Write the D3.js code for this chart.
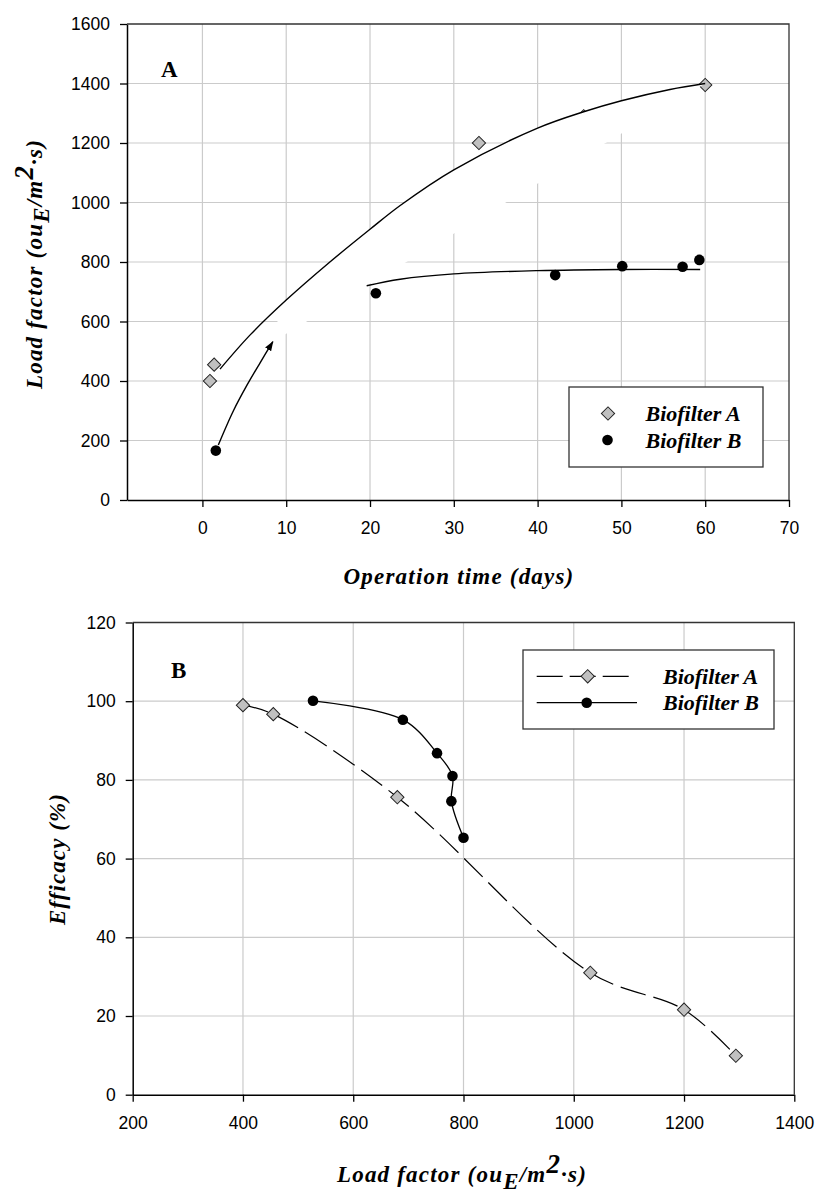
<!DOCTYPE html>
<html>
<head>
<meta charset="UTF-8">
<script src="https://d3js.org/d3.v7.min.js"></script>
<style>
  body { margin: 0; background: #fff; }
  .tick text { font-family: "Liberation Sans", Arial, sans-serif; font-size: 17.5px; fill: #000; }
  .ttl { font-family: "Liberation Serif", "Times New Roman", serif; font-weight: bold; font-style: italic; fill: #000; }
</style>
</head>
<body>
<svg id="canvas"></svg>
<script>

// ---- panel A : load factor vs operation time ----
const ticksTimeX = [0, 10, 20, 30, 40, 50, 60, 70];
const ticksLoadY = [0, 200, 400, 600, 800, 1000, 1200, 1400, 1600];

const timeA = [0.9, 1.4, 33.0, 45.5, 60.0];
const loadA = [400, 455, 1200, 1290, 1395];
const timeB = [1.6, 20.7, 42.1, 50.1, 57.3, 59.3];
const loadB = [166, 695, 756, 786, 784, 807];

// fitted trend lines
const fitTimeA = [2.1, 5.7, 10, 15, 20, 23.6, 30, 40, 45.5, 50, 55.8, 60];
const fitLoadA = [440, 555, 672, 795, 910, 990, 1110, 1250, 1305, 1342, 1380, 1400];
const fitTimeB = [19.6, 23.6, 30, 40, 50, 59.4];
const fitLoadB = [720, 742, 760, 771, 775, 775];
const arrowTime = [1.9, 3.7, 5.3, 6.9, 8.4];
const arrowLoad = [185, 300, 385, 462, 532];

// ---- panel B : efficacy vs load factor ----
const ticksLoadX = [200, 400, 600, 800, 1000, 1200, 1400];
const ticksEffY = [0, 20, 40, 60, 80, 100, 120];

const loadBotA = [400, 455, 680, 1030, 1200, 1294];
const effA = [99.0, 96.7, 75.6, 31.0, 21.6, 9.9];
const loadBotB = [527, 690, 752, 780, 778, 800];
const effB = [100.1, 95.3, 86.8, 81.0, 74.6, 65.3];

const seriesNames = ["Biofilter A", "Biofilter B"];

width = 817;
height = 1195;

svg = d3.select("#canvas").attr("width", width).attr("height", height);

defs = svg.append("defs");
defs.append("marker")
    .attr("id", "arrow")
    .attr("viewBox", "0 0 10 10")
    .attr("refX", 9).attr("refY", 5)
    .attr("markerWidth", 10).attr("markerHeight", 10)
    .attr("markerUnits", "userSpaceOnUse")
    .attr("orient", "auto")
  .append("path")
    .attr("d", "M0,1.5 L10,5 L0,8.5 z")
    .attr("fill", "#000");

zip = (xs, ys) => xs.map((v, i) => [v, ys[i]]);

function grid(g, x, y, xv, yv) {
    g.selectAll(".vg").data(xv).enter().append("line")
        .attr("x1", d => x(d)).attr("x2", d => x(d))
        .attr("y1", y.range()[0]).attr("y2", y.range()[1])
        .attr("stroke", "#cbcbcb").attr("stroke-width", 1.2);
    g.selectAll(".hg").data(yv).enter().append("line")
        .attr("y1", d => y(d)).attr("y2", d => y(d))
        .attr("x1", x.range()[0]).attr("x2", x.range()[1])
        .attr("stroke", "#cbcbcb").attr("stroke-width", 1.2);
}

function axes(x, y, xv, yv) {
    const ax = svg.append("g")
        .attr("transform", "translate(0," + y.range()[0] + ")")
        .call(d3.axisBottom(x).tickValues(xv).tickFormat(d3.format("d"))
            .tickSize(7).tickPadding(15).tickSizeOuter(0));
    const ay = svg.append("g")
        .attr("transform", "translate(" + x.range()[0] + ",0)")
        .call(d3.axisLeft(y).tickValues(yv).tickFormat(d3.format("d"))
            .tickSize(7).tickPadding(10).tickSizeOuter(0));
    [ax, ay].forEach(a => {
        a.select(".domain").attr("stroke", "#000").attr("stroke-width", 1.5);
        a.selectAll(".tick line").attr("stroke", "#000").attr("stroke-width", 1.3);
    });
    // top and right border
    svg.append("path")
        .attr("d", "M" + x.range()[0] + "," + y.range()[1] + "H" + x.range()[1] + "V" + y.range()[0])
        .attr("fill", "none").attr("stroke", "#333").attr("stroke-width", 1.3);
}

function diamonds(g, pts, x, y) {
    g.selectAll(null).data(pts).enter().append("path")
        .attr("d", d3.symbol(d3.symbolSquare, 88)())
        .attr("transform", d => "translate(" + x(d[0]) + "," + y(d[1]) + ") rotate(45)")
        .attr("fill", "#c0c0c0").attr("stroke", "#222").attr("stroke-width", 1);
}

function dots(g, pts, x, y) {
    g.selectAll(null).data(pts).enter().append("circle")
        .attr("cx", d => x(d[0])).attr("cy", d => y(d[1])).attr("r", 5.3)
        .attr("fill", "#000");
}

function loadTitle(t) {
    t.append("tspan").text("Load factor (ou");
    t.append("tspan").attr("dy", 7).text("E");
    t.append("tspan").attr("dy", -7).text("/m");
    t.append("tspan").attr("dy", -9).attr("font-size", 27).text("2");
    t.append("tspan").attr("dy", 9).text("·s)");
}

// ================= panel A =================
xA = d3.scaleLinear().domain([-9, 70]).range([127, 789]);
yA = d3.scaleLinear().domain([0, 1600]).range([500, 24]);

gA = svg.append("g");
grid(gA, xA, yA, ticksTimeX.slice(0, -1), ticksLoadY.slice(1, -1));

diamonds(gA, zip(timeA, loadA), xA, yA);

smooth = d3.line().x(d => xA(d[0])).y(d => yA(d[1])).curve(d3.curveCatmullRom.alpha(0.5));

// white wedge between the arrow tip and the upper trend line (as in the source figure)
wedge = [[arrowTime[arrowTime.length - 1], arrowLoad[arrowLoad.length - 1]]]
    .concat(zip(fitTimeA, fitLoadA).filter(d => d[0] >= 10));
gA.append("path").attr("d", smooth(wedge) + "Z").attr("fill", "#fff");

gA.append("path").attr("d", smooth(zip(fitTimeA, fitLoadA)))
    .attr("fill", "none").attr("stroke", "#000").attr("stroke-width", 1.4);
gA.append("path").attr("d", smooth(zip(fitTimeB, fitLoadB)))
    .attr("fill", "none").attr("stroke", "#000").attr("stroke-width", 1.4);
gA.append("path").attr("d", smooth(zip(arrowTime, arrowLoad)))
    .attr("fill", "none").attr("stroke", "#000").attr("stroke-width", 1.4)
    .attr("marker-end", "url(#arrow)");

dots(gA, zip(timeB, loadB), xA, yA);

axes(xA, yA, ticksTimeX, ticksLoadY);

svg.append("text").attr("x", 161).attr("y", 77)
    .attr("font-family", "Liberation Serif, Times New Roman, serif")
    .attr("font-weight", "bold").attr("font-size", 23).text("A");

// legend A
legA = svg.append("g");
legA.append("rect").attr("x", 569).attr("y", 387).attr("width", 194).attr("height", 80)
    .attr("fill", "#fff").attr("stroke", "#333").attr("stroke-width", 1.3);
diamonds(legA, [[0, 0]], v => 608, v => 413.5);
dots(legA, [[0, 0]], v => 607.5, v => 440);
legA.selectAll(null).data(seriesNames).enter().append("text")
    .attr("class", "ttl").attr("font-size", 22)
    .attr("x", 645.5).attr("y", (d, i) => 421 + i * 26.5).text(d => d);

svg.append("text").attr("class", "ttl").attr("font-size", 23)
    .attr("letter-spacing", 1.2).attr("text-anchor", "middle")
    .attr("x", 459).attr("y", 584).text("Operation time (days)");

loadTitle(svg.append("text").attr("class", "ttl").attr("font-size", 23)
    .attr("letter-spacing", 1.2).attr("text-anchor", "middle")
    .attr("transform", "translate(42,264) rotate(-90)"));

// ================= panel B =================
xB = d3.scaleLinear().domain([200, 1400]).range([132.7, 794.3]);
yB = d3.scaleLinear().domain([0, 120]).range([1094.7, 622.5]);

gB = svg.append("g");
grid(gB, xB, yB, ticksLoadX.slice(1, -1), ticksEffY.slice(1, -1));

lineB = d3.line().x(d => xB(d[0])).y(d => yB(d[1])).curve(d3.curveCatmullRom.alpha(0.5));

gB.append("path").attr("d", lineB(zip(loadBotA, effA)))
    .attr("fill", "none").attr("stroke", "#000").attr("stroke-width", 1.2)
    .attr("stroke-dasharray", "26,8");
gB.append("path").attr("d", lineB(zip(loadBotB, effB)))
    .attr("fill", "none").attr("stroke", "#000").attr("stroke-width", 1.3);

diamonds(gB, zip(loadBotA, effA), xB, yB);
dots(gB, zip(loadBotB, effB), xB, yB);

axes(xB, yB, ticksLoadX, ticksEffY);

svg.append("text").attr("x", 171).attr("y", 678)
    .attr("font-family", "Liberation Serif, Times New Roman, serif")
    .attr("font-weight", "bold").attr("font-size", 23).text("B");

// legend B
legB = svg.append("g");
legB.append("rect").attr("x", 523).attr("y", 650).attr("width", 251).attr("height", 79)
    .attr("fill", "#fff").attr("stroke", "#333").attr("stroke-width", 1.3);
legB.append("line").attr("x1", 536.7).attr("x2", 630).attr("y1", 676.3).attr("y2", 676.3)
    .attr("stroke", "#000").attr("stroke-width", 1.2).attr("stroke-dasharray", "26,7");
legB.append("line").attr("x1", 536.7).attr("x2", 637).attr("y1", 702.7).attr("y2", 702.7)
    .attr("stroke", "#000").attr("stroke-width", 1.3);
diamonds(legB, [[0, 0]], v => 587.7, v => 676.3);
dots(legB, [[0, 0]], v => 586.7, v => 702.7);
legB.selectAll(null).data(seriesNames).enter().append("text")
    .attr("class", "ttl").attr("font-size", 22)
    .attr("x", 663).attr("y", (d, i) => 684 + i * 26.4).text(d => d);

loadTitle(svg.append("text").attr("class", "ttl").attr("font-size", 23)
    .attr("letter-spacing", 1.2).attr("text-anchor", "middle")
    .attr("x", 462).attr("y", 1182));

svg.append("text").attr("class", "ttl").attr("font-size", 23)
    .attr("letter-spacing", 1.1).attr("text-anchor", "middle")
    .attr("transform", "translate(65,859) rotate(-90)").text("Efficacy (%)");

</script>
</body>
</html>
